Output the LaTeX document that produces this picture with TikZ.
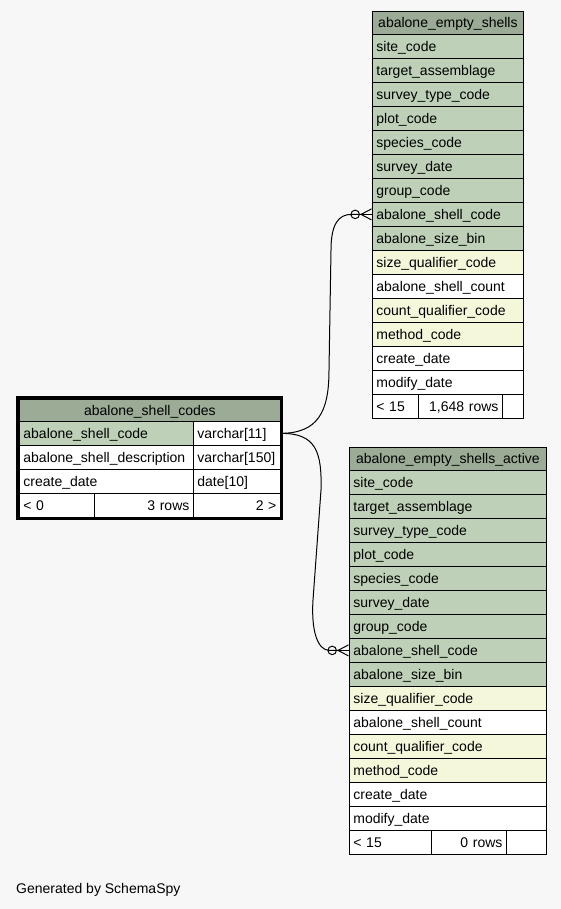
\documentclass[tikz,border=0pt]{standalone}
\usepackage{fontspec}
\setmainfont{Liberation Sans}
\usetikzlibrary{arrows.meta}
\definecolor{pagebg}{HTML}{F7F7F7}
\definecolor{headgreen}{HTML}{9BAB96}
\definecolor{keygreen}{HTML}{BED1B8}
\definecolor{idxyellow}{HTML}{F4F7DA}

\begin{document}
\begin{tikzpicture}[x=1pt,y=-1pt,
  font=\fontsize{14}{16}\selectfont,
  row/.style={draw, line width=0.8pt, anchor=north west, inner xsep=4pt, inner ysep=0pt,
    minimum height=24pt, text height=11pt, text depth=1pt, align=left, text width=#1},
  head/.style={row=#1, fill=headgreen, align=center, minimum height=23pt},
  pk/.style={row=#1, fill=keygreen},
  idx/.style={row=#1, fill=idxyellow},
  col/.style={row=#1, fill=white},
  num/.style={row=#1, fill=white, align=right},
  fk/.style={draw, line width=1pt,
    -{Circle[open,length=9.5pt,width=9.5pt]Straight Barb[reversed,length=10.5pt,width=11pt]}}]

\fill[pagebg] (0,0) rectangle (561,909);

% abalone_shell_codes
\node[head=253pt, minimum height=22pt] (codes-head) at (19,399) {abalone\_shell\_codes};
\node[pk=166pt] (codes-pk) at (19,421) {abalone\_shell\_code};
\node[col=79pt] (codes-pkt) at (193,421) {varchar[11]};
\node[col=166pt] (codes-desc) at (19,445) {abalone\_shell\_description};
\node[col=79pt] (codes-desct) at (193,445) {varchar[150]};
\node[col=166pt] (codes-date) at (19,469) {create\_date};
\node[col=79pt] (codes-datet) at (193,469) {date[10]};
\node[col=67pt] (codes-foot1) at (19,493) {< 0};
\node[num=91pt] (codes-foot2) at (94,493) {3 rows};
\node[num=79pt] (codes-foot3) at (193,493) {2 >};
\draw[line width=3pt] (17.5,397.5) rectangle (281.5,518.5);

% abalone_empty_shells
\node[head=143pt] (shells-head) at (372,11) {abalone\_empty\_shells};
\node[pk=143pt] (shells-site) at (372,34) {site\_code};
\node[pk=143pt] (shells-target) at (372,58) {target\_assemblage};
\node[pk=143pt] (shells-type) at (372,82) {survey\_type\_code};
\node[pk=143pt] (shells-plot) at (372,106) {plot\_code};
\node[pk=143pt] (shells-species) at (372,130) {species\_code};
\node[pk=143pt] (shells-sdate) at (372,154) {survey\_date};
\node[pk=143pt] (shells-group) at (372,178) {group\_code};
\node[pk=143pt] (shells-pk) at (372,202) {abalone\_shell\_code};
\node[pk=143pt] (shells-bin) at (372,226) {abalone\_size\_bin};
\node[idx=143pt] (shells-sizeq) at (372,250) {size\_qualifier\_code};
\node[col=143pt] (shells-count) at (372,274) {abalone\_shell\_count};
\node[idx=143pt] (shells-countq) at (372,298) {count\_qualifier\_code};
\node[idx=143pt] (shells-method) at (372,322) {method\_code};
\node[col=143pt] (shells-cdate) at (372,346) {create\_date};
\node[col=143pt] (shells-mdate) at (372,370) {modify\_date};
\node[col=38pt] (shells-foot1) at (372,394) {< 15};
\node[num=76pt] (shells-foot2) at (418,394) {1,648 rows};
\node[col=13pt] (shells-foot3) at (502,394) {};

% abalone_empty_shells_active
\node[head=189pt] (active-head) at (349,447) {abalone\_empty\_shells\_active};
\node[pk=189pt] (active-site) at (349,470) {site\_code};
\node[pk=189pt] (active-target) at (349,494) {target\_assemblage};
\node[pk=189pt] (active-type) at (349,518) {survey\_type\_code};
\node[pk=189pt] (active-plot) at (349,542) {plot\_code};
\node[pk=189pt] (active-species) at (349,566) {species\_code};
\node[pk=189pt] (active-sdate) at (349,590) {survey\_date};
\node[pk=189pt] (active-group) at (349,614) {group\_code};
\node[pk=189pt] (active-pk) at (349,638) {abalone\_shell\_code};
\node[pk=189pt] (active-bin) at (349,662) {abalone\_size\_bin};
\node[idx=189pt] (active-sizeq) at (349,686) {size\_qualifier\_code};
\node[col=189pt] (active-count) at (349,710) {abalone\_shell\_count};
\node[idx=189pt] (active-countq) at (349,734) {count\_qualifier\_code};
\node[idx=189pt] (active-method) at (349,758) {method\_code};
\node[col=189pt] (active-cdate) at (349,782) {create\_date};
\node[col=189pt] (active-mdate) at (349,806) {modify\_date};
\node[col=74pt] (active-foot1) at (349,830) {< 15};
\node[num=67pt] (active-foot2) at (431,830) {0 rows};
\node[col=32pt] (active-foot3) at (506,830) {};

% foreign keys
\draw[fk] (codes-pkt.east) .. controls (318,433) and (329,412) .. (329,370)
  -- (331,250) .. controls (331,225) and (338,214) .. ([xshift=-20pt]shells-pk.west) -- (shells-pk.west);
\draw[line width=1pt] (shells-pk.west) -- +(-11,0);
\draw[fk] (codes-pkt.east) .. controls (316,433) and (322,452) .. (321,490)
  -- (313,600) .. controls (311,632) and (318,650) .. ([xshift=-20pt]active-pk.west) -- (active-pk.west);
\draw[line width=1pt] (active-pk.west) -- +(-11,0);

\node[anchor=base west, inner sep=0pt] (credit) at (16,893) {Generated by SchemaSpy};
\end{tikzpicture}
\end{document}
